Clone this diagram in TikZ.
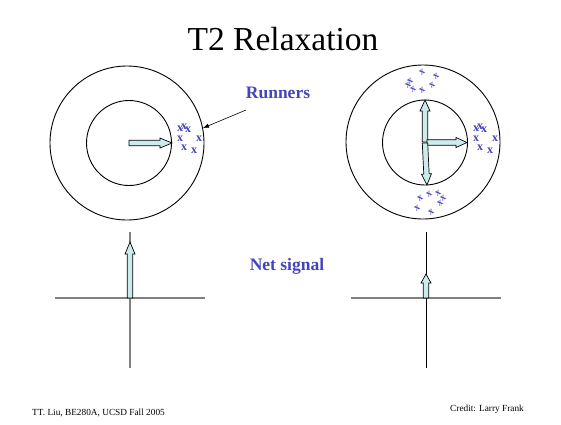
\documentclass[tikz,border=0pt]{standalone}
\usepackage{fontspec}
\setmainfont{Liberation Serif}
\usetikzlibrary{arrows.meta,positioning,calc}
\definecolor{runblue}{RGB}{68,68,187}
\definecolor{palecyan}{RGB}{204,236,236}
\tikzset{
    ring/.style={draw, line width=0.9pt},
    axisline/.style={draw=gray, line width=1.5pt},
    blockarr/.style={draw, fill=palecyan, line width=0.7pt, line join=miter},
    spin/.style={text=runblue, font=\fontsize{12}{12}\selectfont\bfseries, inner sep=0pt},
    tiltspin/.style={text=runblue, font=\fontsize{10}{10}\selectfont\bfseries, inner sep=0pt, rotate=35},
    bluelabel/.style={text=runblue, font=\fontsize{17.5}{17.5}\selectfont\bfseries, inner sep=0pt, anchor=base},
    footnote/.style={font=\fontsize{9.3}{9.3}\selectfont, inner sep=0pt, anchor=base west}
}
% block arrow: #1 tail, #2 angle, #3 length, #4 head length
\newcommand{\blkarrow}[4]{%
    \draw[blockarr, shift={#1}, rotate=#2]
        (0,-2.7) -- ({#3-#4},-2.7) -- ({#3-#4},-5) -- (#3,0)
        -- ({#3-#4},5) -- ({#3-#4},2.7) -- (0,2.7) -- cycle;}

\begin{document}
\begin{tikzpicture}[x=1pt, y=-1pt]
    \useasboundingbox (0,0) rectangle (561,424);
    \node[font=\fontsize{33.5}{33.5}\selectfont, anchor=base] (title) at (283,50) {T2 Relaxation};

    % in phase
    \draw[ring] (127,143) circle[radius=77];
    \draw[ring] (129,143) circle[radius=42.5];
    \blkarrow{(129,143)}{0}{43}{12}
    \foreach \px/\py [count=\i] in {180/129, 184/126.5, 188/130, 180/139, 199/139, 184/148, 194/151}
        \node[spin] (lx\i) at (\px,\py) {x};

    \node[bluelabel] (runners) at (278,98) {Runners};
    \coordinate (ptail) at (246,110);
    \coordinate (phit) at (203,128);
    \draw[-{Latex[length=6pt,width=4.5pt]}, line width=0.6pt] (ptail) -- (phit);

    % dephased
    \draw[ring] (423,142) circle[radius=77];
    \draw[ring] (425,142.5) circle[radius=42.5];
    \blkarrow{(425,142)}{90}{42}{11}
    \blkarrow{(427,142.5)}{0}{40}{11}
    \blkarrow{(425,143)}{-87.3}{42}{11}
    \foreach \px/\py [count=\i] in {476/129, 480/126.5, 484/130, 476/139, 495/139, 480/148, 490/151}
        \node[spin] (rx\i) at (\px,\py) {x};
    \foreach \px/\py [count=\i] in {422/72, 436/76, 410/81, 408/85, 413/89, 422/90, 432/85}
        \node[tiltspin] (tx\i) at (\px,\py) {x};
    \foreach \px/\py [count=\i] in {420/198, 429/194, 438/193, 443/198, 440/203, 417/208, 431/212}
        \node[tiltspin] (bx\i) at (\px,\py) {x};

    % net signal
    \draw[axisline] (55,298) -- (205,298);
    \draw[axisline] (130,232) -- (130,368);
    \blkarrow{(130,298)}{90}{56}{12}
    \draw[axisline] (351,298) -- (501,298);
    \draw[line width=0.9pt] (426,232) -- (426,368);
    \blkarrow{(426,298)}{90}{24}{9}
    \node[bluelabel] (netsig) at (287,270) {Net signal};

    \node[footnote] (course) at (32,415) {TT. Liu, BE280A, UCSD Fall 2005};
    \node[footnote] (credit) at (450,411.5) {Credit: Larry Frank};
\end{tikzpicture}
\end{document}
